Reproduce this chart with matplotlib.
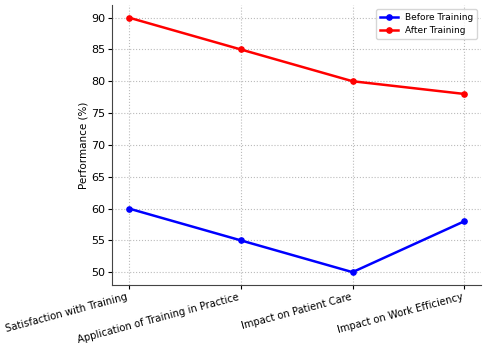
import matplotlib.pyplot as plt

categories = ['Satisfaction with Training', 'Application of Training in Practice',
              'Impact on Patient Care', 'Impact on Work Efficiency']
before = [60, 55, 50, 58]
after = [90, 85, 80, 78]

fig, ax = plt.subplots(figsize=(4.87, 3.47), dpi=100)
fig.subplots_adjust(left=0.23, right=0.988, top=0.986, bottom=0.179)

ax.plot(categories, before, '-o', color='blue', lw=1.8, ms=3.8, label='Before Training')
ax.plot(categories, after, '-o', color='red', lw=1.8, ms=3.8, label='After Training')

ax.set_ylabel('Performance (%)', fontsize=7.5, labelpad=2)
ax.tick_params(axis='y', labelsize=8, length=3, pad=2)
ax.tick_params(axis='x', labelsize=7.2, length=3, pad=2)
plt.setp(ax.get_xticklabels(), rotation=15, ha='right')
ax.grid(True, ls=':', color='#bbbbbb', lw=0.8)
for s in ['top', 'right']:
    ax.spines[s].set_visible(False)
for s in ['left', 'bottom']:
    ax.spines[s].set_color('#444444')
ax.legend(fontsize=6.5, loc='upper right')

fig.savefig('out.png', dpi=100)
